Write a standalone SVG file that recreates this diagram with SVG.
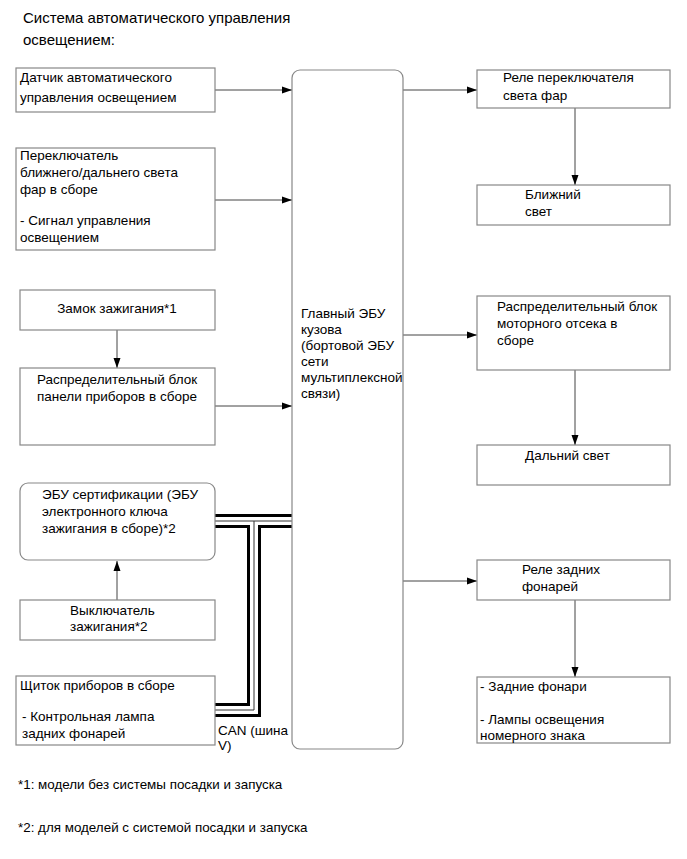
<svg xmlns="http://www.w3.org/2000/svg" width="687" height="859" viewBox="0 0 687 859">
<style>
text{font-family:"Liberation Sans",Arial,sans-serif;font-size:13.5px;fill:#000}
.title{font-size:15px}
.fn{font-size:13.4px}
.box{fill:#fff;stroke:#888;stroke-width:1.2}
.ar{stroke:#444;stroke-width:1;fill:none;marker-end:url(#ah)}
.busB{stroke:#000;stroke-width:14;fill:none;stroke-linejoin:miter}
.busW{stroke:#fff;stroke-width:8;fill:none;stroke-linejoin:miter}
.busT{stroke:#333;stroke-width:1;fill:none}
.c{text-anchor:middle}
</style>
<defs>
<marker id="ah" viewBox="0 0 10 10" refX="10" refY="5" markerWidth="10" markerHeight="10" markerUnits="userSpaceOnUse" orient="auto">
<path d="M0,1.5 L10,5 L0,8.5 z" fill="#000"/>
</marker>
</defs>
<rect width="687" height="859" fill="#fff"/>
<text class="title" x="23" y="23">Система автоматического управления</text>
<text class="title" x="23" y="45">освещением:</text>

<g id="connectors">
<line class="ar" x1="215" y1="90" x2="292" y2="90"/>
<line class="ar" x1="215" y1="200" x2="292" y2="200"/>
<line class="ar" x1="117" y1="330" x2="117" y2="368"/>
<line class="ar" x1="215" y1="406" x2="292" y2="406"/>
<line class="ar" x1="117" y1="600" x2="117" y2="561"/>
<line class="ar" x1="403" y1="90" x2="477" y2="90"/>
<line class="ar" x1="575" y1="108" x2="575" y2="185"/>
<line class="ar" x1="403" y1="335" x2="477" y2="335"/>
<line class="ar" x1="575" y1="370" x2="575" y2="445"/>
<line class="ar" x1="403" y1="581" x2="477" y2="581"/>
<line class="ar" x1="575" y1="600" x2="575" y2="677"/>
<g id="can-bus">
<path class="busB" d="M215,521 H292"/>
<path class="busB" d="M254,521 V710 H215"/>
<path class="busW" d="M215,521 H292"/>
<path class="busW" d="M254,521 V710 H215"/>
<path class="busT" d="M215,521 H292"/>
<path class="busT" d="M254,521 V710 H215"/>
</g>
<text x="218" y="735">CAN (шина</text>
<text x="218" y="750">V)</text>
</g>

<g id="main-ecu">
<rect class="box" x="292" y="70" width="111" height="679" rx="8"/>
<text x="301" y="318">Главный ЭБУ</text>
<text x="301" y="334">кузова</text>
<text x="301" y="350">(бортовой ЭБУ</text>
<text x="301" y="366">сети</text>
<text x="301" y="382">мультиплексной</text>
<text x="301" y="398">связи)</text>
</g>

<g id="sensor">
<rect class="box" x="16" y="68" width="199" height="44"/>
<text x="20" y="82">Датчик автоматического</text>
<text x="20" y="102">управления освещением</text>
</g>

<g id="headlight-switch">
<rect class="box" x="16" y="148" width="199" height="102"/>
<text x="20" y="160">Переключатель</text>
<text x="20" y="177">ближнего/дальнего света</text>
<text x="20" y="194">фар в сборе</text>
<text x="20" y="225">- Сигнал управления</text>
<text x="20" y="242">освещением</text>
</g>

<g id="ignition-lock">
<rect class="box" x="20" y="290" width="195" height="40"/>
<text class="c" x="117" y="313">Замок зажигания*1</text>
</g>

<g id="instrument-junction">
<rect class="box" x="20" y="368" width="195" height="77"/>
<text class="c" x="117" y="384">Распределительный блок</text>
<text class="c" x="117" y="401">панели приборов в сборе</text>
</g>

<g id="cert-ecu">
<rect class="box" x="20" y="483" width="195" height="77" rx="8"/>
<text x="42" y="499">ЭБУ сертификации (ЭБУ</text>
<text x="42" y="516">электронного ключа</text>
<text x="42" y="533">зажигания в сборе)*2</text>
</g>

<g id="ignition-switch">
<rect class="box" x="20" y="600" width="195" height="40"/>
<text x="70" y="615">Выключатель</text>
<text x="70" y="631">зажигания*2</text>
</g>

<g id="combination-meter">
<rect class="box" x="16" y="676" width="199" height="69"/>
<text x="20" y="690">Щиток приборов в сборе</text>
<text x="22" y="721">- Контрольная лампа</text>
<text x="22" y="738">задних фонарей</text>
</g>

<g id="headlight-relay">
<rect class="box" x="477" y="70" width="193" height="38"/>
<text x="503" y="82">Реле переключателя</text>
<text x="503" y="100">света фар</text>
</g>

<g id="low-beam">
<rect class="box" x="477" y="185" width="193" height="40"/>
<text x="525" y="199">Ближний</text>
<text x="525" y="216">свет</text>
</g>

<g id="engine-junction">
<rect class="box" x="477" y="296" width="193" height="74"/>
<text x="497" y="311">Распределительный блок</text>
<text x="497" y="328">моторного отсека в</text>
<text x="497" y="345">сборе</text>
</g>

<g id="high-beam">
<rect class="box" x="477" y="445" width="193" height="40"/>
<text x="525" y="460">Дальний свет</text>
</g>

<g id="tail-relay">
<rect class="box" x="477" y="560" width="193" height="40"/>
<text x="522" y="574">Реле задних</text>
<text x="522" y="591">фонарей</text>
</g>

<g id="tail-lamps">
<rect class="box" x="477" y="677" width="193" height="66"/>
<text x="480" y="691">- Задние фонари</text>
<text x="480" y="724">- Лампы освещения</text>
<text x="480" y="740">номерного знака</text>
</g>

<text class="fn" x="18" y="789">*1: модели без системы посадки и запуска</text>
<text class="fn" x="18" y="832">*2: для моделей с системой посадки и запуска</text>
</svg>
